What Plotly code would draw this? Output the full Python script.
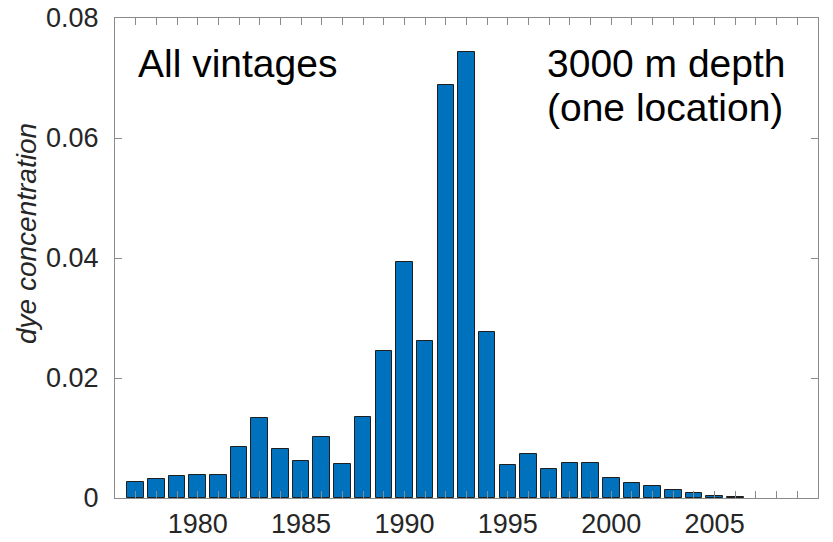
import plotly.graph_objects as go

years = list(range(1977, 2007))
dye = [0.0026, 0.0032, 0.0036, 0.0039, 0.0038, 0.0085, 0.0134, 0.0081, 0.0061,
       0.0102, 0.0057, 0.0135, 0.0245, 0.0393, 0.0262, 0.0689, 0.0743, 0.0276,
       0.0055, 0.0073, 0.0048, 0.0058, 0.0058, 0.0033, 0.0025, 0.0020, 0.0013,
       0.0008, 0.0004, 0.0002]

font_family = "Liberation Sans, Arial, Helvetica, sans-serif"
axis_gray = "#8a8a8a"
text_gray = "#262626"

fig = go.Figure()
fig.add_trace(go.Bar(
    x=years, y=dye, width=0.8,
    marker=dict(color="#0072BD", line=dict(color="#1e1e1e", width=1)),
    showlegend=False,
))

fig.update_layout(
    width=833, height=542,
    margin=dict(l=115, r=15, t=18, b=44, autoexpand=False),
    paper_bgcolor="white", plot_bgcolor="white",
    font=dict(family=font_family, color=text_gray),
    bargap=0,
)

fig.update_xaxes(
    range=[1976, 2010], tick0=1980, dtick=5, automargin=False,
    ticks="inside", ticklen=7, tickcolor=axis_gray, tickwidth=1,
    showline=True, linecolor=axis_gray, linewidth=1, mirror="ticks",
    showgrid=False, zeroline=False, ticklabelstandoff=2,
    tickfont=dict(size=27, color=text_gray),
    minor=dict(tick0=1976, dtick=1, ticks="inside", ticklen=7,
               tickcolor=axis_gray, tickwidth=1, showgrid=False),
)
fig.update_yaxes(
    range=[0, 0.08], tick0=0, dtick=0.02, automargin=False,
    ticks="inside", ticklen=7, tickcolor=axis_gray, tickwidth=1,
    showline=True, linecolor=axis_gray, linewidth=1, mirror="ticks",
    showgrid=False, zeroline=False, ticklabelstandoff=10,
    tickfont=dict(size=27, color=text_gray),
)

# y-axis title as rotated italic text
fig.add_annotation(
    text="<i>dye concentration</i>", xref="paper", yref="paper",
    x=(27 - 115) / 703, y=(498 - 234) / 480, textangle=-90,
    showarrow=False, xanchor="center", yanchor="middle",
    font=dict(size=28, color=text_gray, family=font_family),
)

fig.add_annotation(
    text="All vintages", xref="paper", yref="paper",
    x=(136 - 115) / 703, y=(498 - 63) / 480,
    showarrow=False, xanchor="left", yanchor="middle",
    font=dict(size=39, color="black", family=font_family),
)
fig.add_annotation(
    text="3000 m depth", xref="paper", yref="paper",
    x=(545 - 115) / 703, y=(498 - 63) / 480,
    showarrow=False, xanchor="left", yanchor="middle",
    font=dict(size=39, color="black", family=font_family),
)
fig.add_annotation(
    text="(one location)", xref="paper", yref="paper",
    x=(545 - 115) / 703, y=(498 - 107) / 480,
    showarrow=False, xanchor="left", yanchor="middle",
    font=dict(size=39, color="black", family=font_family),
)

fig.write_html(
    "out.html",
    config={"displayModeBar": False},
    post_script="document.body.style.margin='0';document.body.style.padding='0';",
)
